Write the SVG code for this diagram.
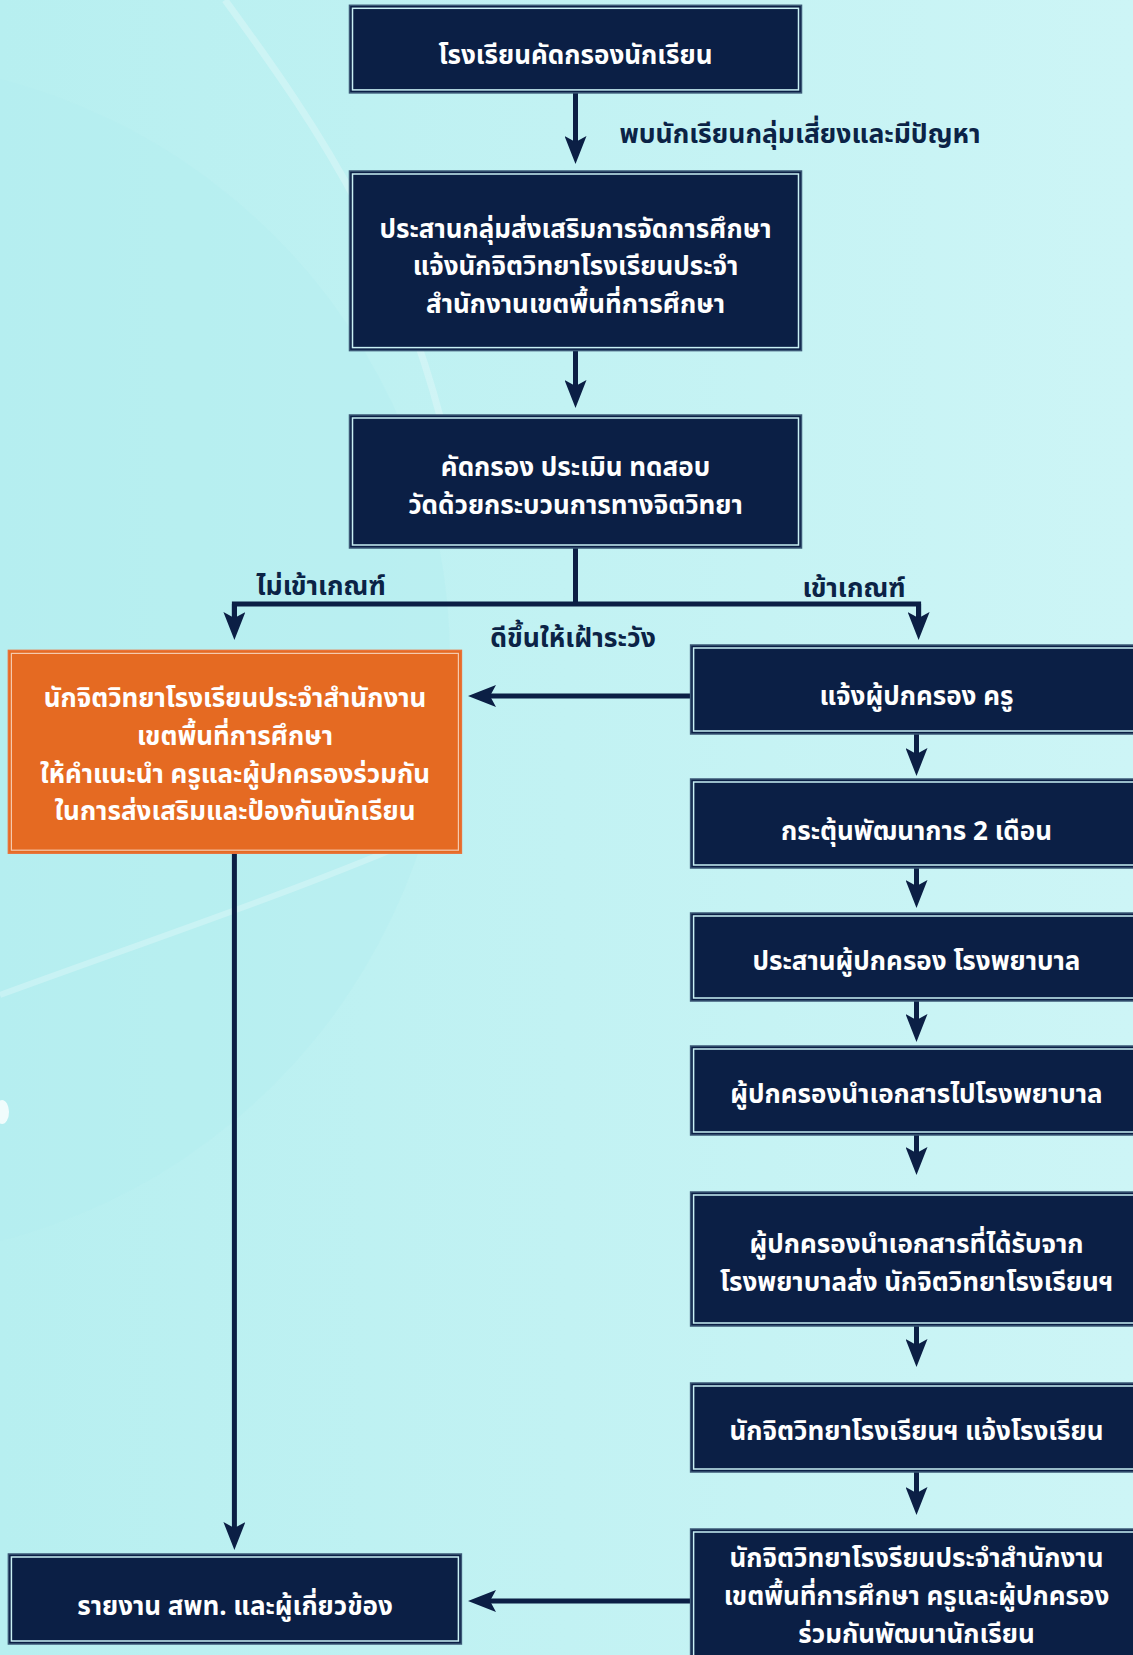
<svg xmlns="http://www.w3.org/2000/svg" width="1133" height="1655" viewBox="0 0 1133 1655">
<defs>
<linearGradient id="bg" x1="0" y1="0" x2="1" y2="0">
<stop offset="0" stop-color="#b7eff0"/>
<stop offset="1" stop-color="#cdf5f6"/>
</linearGradient>
<marker id="ah" viewBox="0 0 28 22" refX="8" refY="11" markerWidth="28" markerHeight="22" markerUnits="userSpaceOnUse" orient="auto">
<path d="M0,0 L28,11 L0,22 L6,11 z" fill="#0b1f45"/>
</marker>
<style>
.box{fill:#0b1f45;stroke:#3b5876;stroke-width:1.5}
.in{fill:none;stroke:#c9f0f4;stroke-width:1.5}
.obox{fill:#e56a22;stroke:#e8733a;stroke-width:1.5}
.oin{fill:none;stroke:#f5c9ad;stroke-width:1.2}
.t{font-family:"Noto Sans Thai","Noto Sans","Noto Sans CJK SC",sans-serif;font-weight:bold;font-size:26px;fill:#ffffff;text-anchor:middle}
.lab{font-family:"Noto Sans Thai","Noto Sans","Noto Sans CJK SC",sans-serif;font-weight:bold;font-size:26.5px;fill:#0b2346;text-anchor:middle}
.c{fill:none;stroke:#0b1f45;stroke-width:5}
.ca{fill:none;stroke:#0b1f45;stroke-width:5;marker-end:url(#ah)}
</style>
</defs>
<g id="background">
<rect x="0" y="0" width="1133" height="1655" fill="url(#bg)"/>
<circle cx="-150" cy="660" r="600" fill="#b3eef0" opacity="0.45"/>
<path d="M225,0 C320,130 410,260 455,480" fill="none" stroke="#ffffff" stroke-width="7" opacity="0.25"/>
<path d="M0,995 C150,940 330,880 460,820" fill="none" stroke="#ffffff" stroke-width="6" opacity="0.25"/>
<ellipse cx="2" cy="1112" rx="7" ry="12" fill="#ffffff" opacity="0.8"/>
</g>
<g id="connectors">
<line class="ca" x1="575.5" y1="93" x2="575.5" y2="144"/>
<line class="ca" x1="575.5" y1="351" x2="575.5" y2="388"/>
<polyline class="c" points="575.5,548 575.5,604"/>
<polyline class="c" points="234.4,620 234.4,604 918.6,604 918.6,620"/>
<line class="ca" x1="234.4" y1="604" x2="234.4" y2="620"/>
<line class="ca" x1="918.6" y1="604" x2="918.6" y2="620"/>
<line class="ca" x1="690.6" y1="696" x2="488" y2="696"/>
<line class="ca" x1="916.5" y1="734" x2="916.5" y2="756"/>
<line class="ca" x1="916.5" y1="868" x2="916.5" y2="888"/>
<line class="ca" x1="916.5" y1="1001" x2="916.5" y2="1022"/>
<line class="ca" x1="916.5" y1="1135" x2="916.5" y2="1155"/>
<line class="ca" x1="916.5" y1="1326" x2="916.5" y2="1347"/>
<line class="ca" x1="916.5" y1="1472" x2="916.5" y2="1495"/>
<line class="ca" x1="234.4" y1="853" x2="234.4" y2="1530"/>
<line class="ca" x1="690.6" y1="1601" x2="488" y2="1601"/>
</g>
<g id="labels">
<text class="lab" x="800" y="143">พบนักเรียนกลุ่มเสี่ยงและมีปัญหา</text>
<text class="lab" x="321" y="595">ไม่เข้าเกณฑ์</text>
<text class="lab" x="854" y="597">เข้าเกณฑ์</text>
<text class="lab" x="573" y="647">ดีขึ้นให้เฝ้าระวัง</text>
</g>
<g id="n1">
<rect class="box" x="349.5" y="5.3" width="452" height="87.6"/>
<rect class="in" x="352.5" y="8.3" width="446" height="81.6"/>
<text class="t" x="575.5" y="64">โรงเรียนคัดกรองนักเรียน</text>
</g>
<g id="n2">
<rect class="box" x="349.5" y="171" width="452" height="179.6"/>
<rect class="in" x="352.5" y="174" width="446" height="173.6"/>
<text class="t" x="575.5" y="238">ประสานกลุ่มส่งเสริมการจัดการศึกษา</text>
<text class="t" x="575.5" y="275">แจ้งนักจิตวิทยาโรงเรียนประจำ</text>
<text class="t" x="575.5" y="313">สำนักงานเขตพื้นที่การศึกษา</text>
</g>
<g id="n3">
<rect class="box" x="349.5" y="415" width="452" height="133"/>
<rect class="in" x="352.5" y="418" width="446" height="127"/>
<text class="t" x="575.5" y="476">คัดกรอง ประเมิน ทดสอบ</text>
<text class="t" x="575.5" y="514">วัดด้วยกระบวนการทางจิตวิทยา</text>
</g>
<g id="n4">
<rect class="obox" x="8.4" y="650.4" width="453" height="202.8"/>
<rect class="oin" x="11.4" y="653.4" width="447" height="196.8"/>
<text class="t" x="235" y="707">นักจิตวิทยาโรงเรียนประจำสำนักงาน</text>
<text class="t" x="235" y="745">เขตพื้นที่การศึกษา</text>
<text class="t" x="235" y="783">ให้คำแนะนำ ครูและผู้ปกครองร่วมกัน</text>
<text class="t" x="235" y="820">ในการส่งเสริมและป้องกันนักเรียน</text>
</g>
<g id="n5">
<rect class="box" x="690.6" y="645" width="452" height="89"/>
<rect class="in" x="693.6" y="648" width="446" height="83"/>
<text class="t" x="916.5" y="705">แจ้งผู้ปกครอง ครู</text>
</g>
<g id="n6">
<rect class="box" x="690.6" y="779" width="452" height="89"/>
<rect class="in" x="693.6" y="782" width="446" height="83"/>
<text class="t" x="916.5" y="840">กระตุ้นพัฒนาการ 2 เดือน</text>
</g>
<g id="n7">
<rect class="box" x="690.6" y="913" width="452" height="88"/>
<rect class="in" x="693.6" y="916" width="446" height="82"/>
<text class="t" x="916.5" y="970">ประสานผู้ปกครอง โรงพยาบาล</text>
</g>
<g id="n8">
<rect class="box" x="690.6" y="1046" width="452" height="89"/>
<rect class="in" x="693.6" y="1049" width="446" height="83"/>
<text class="t" x="916.5" y="1103">ผู้ปกครองนำเอกสารไปโรงพยาบาล</text>
</g>
<g id="n9">
<rect class="box" x="690.6" y="1192" width="452" height="134"/>
<rect class="in" x="693.6" y="1195" width="446" height="128"/>
<text class="t" x="916.5" y="1253">ผู้ปกครองนำเอกสารที่ได้รับจาก</text>
<text class="t" x="916.5" y="1291">โรงพยาบาลส่ง นักจิตวิทยาโรงเรียนฯ</text>
</g>
<g id="n10">
<rect class="box" x="690.6" y="1383" width="452" height="89"/>
<rect class="in" x="693.6" y="1386" width="446" height="83"/>
<text class="t" x="916.5" y="1440">นักจิตวิทยาโรงเรียนฯ แจ้งโรงเรียน</text>
</g>
<g id="n11">
<rect class="box" x="690.6" y="1529" width="452" height="140"/>
<rect class="in" x="693.6" y="1532" width="446" height="134"/>
<text class="t" x="916.5" y="1567">นักจิตวิทยาโรงรียนประจำสำนักงาน</text>
<text class="t" x="916.5" y="1605">เขตพื้นที่การศึกษา ครูและผู้ปกครอง</text>
<text class="t" x="916.5" y="1643">ร่วมกันพัฒนานักเรียน</text>
</g>
<g id="n12">
<rect class="box" x="8.4" y="1554" width="453" height="90"/>
<rect class="in" x="11.4" y="1557" width="447" height="84"/>
<text class="t" x="235" y="1615">รายงาน สพท. และผู้เกี่ยวข้อง</text>
</g>
</svg>
